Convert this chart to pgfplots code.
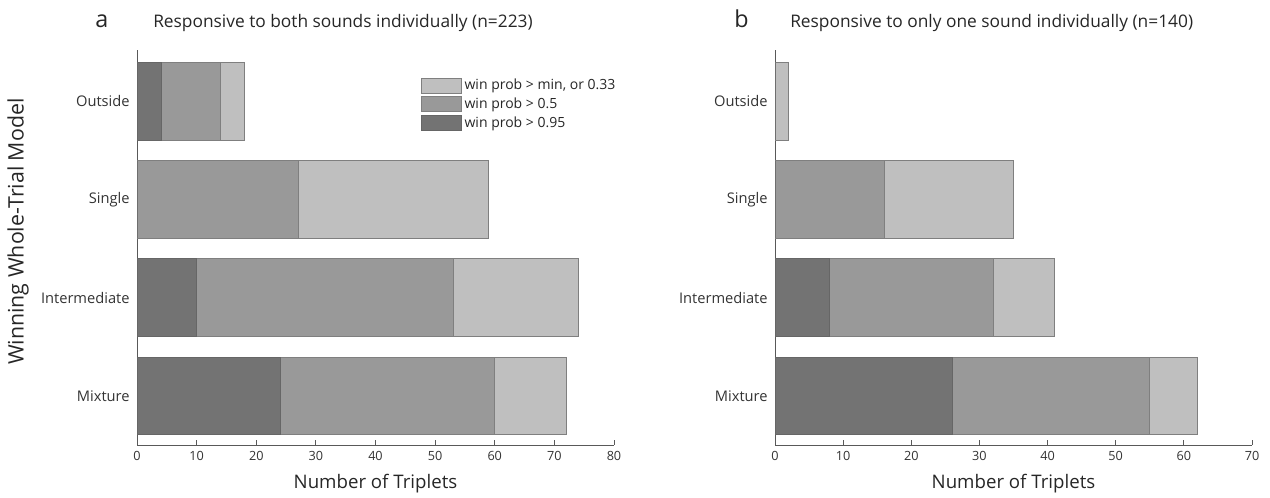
\documentclass[border=0pt]{standalone}
\usepackage{pgfplots}
\pgfplotsset{compat=1.18}
\usepackage{fontspec}
\setmainfont{Open Sans}
\definecolor{cdark}{HTML}{737373}
\definecolor{cmid}{HTML}{999999}
\definecolor{clight}{HTML}{BFBFBF}
\definecolor{cedge}{HTML}{7F7F7F}
\pgfplotsset{
  panel/.style={
    scale only axis,
    width=357.75pt, height=296.25pt,
    xbar, bar width=0.79, bar shift=0pt,
    xmin=0, ymin=0.5, ymax=4.52,
    axis lines*=left,
    axis line style={black!65, line width=0.6pt},
    tick align=inside,
    major tick length=3.75pt,
    every tick/.style={black!65, line width=0.6pt},
    ytick={1,2,3,4},
    yticklabels={Mixture,Intermediate,Single,Outside},
    ytick style={draw=none},
    y tick label style={font=\fontsize{11}{13}\selectfont, text=black!80, xshift=-2pt},
    x tick label style={font=\fontsize{9.5}{11}\selectfont, text=black!80, yshift=-1.5pt},
    xlabel={Number of Triplets},
    xlabel style={font=\fontsize{14}{16}\selectfont, text=black!85,
      at={(axis description cs:0.5,-0.0987)}, anchor=center},
    /pgf/number format/assume math mode=true,
    clip=false,
  },
  barlight/.style={fill=clight, draw=cedge, line width=0.5pt},
  barmid/.style={fill=cmid, draw=cedge, line width=0.5pt},
  bardark/.style={fill=cdark, draw=cedge!80!black, line width=0.5pt},
}
\begin{document}
\begin{tikzpicture}
\useasboundingbox (0pt,0pt) rectangle (952.5pt,373.5pt);
\begin{axis}[panel, at={(102.75pt,39.75pt)}, anchor=south west,
  xmax=80, xtick={0,10,...,80},
  ylabel={Winning Whole-Trial Model},
  ylabel style={font=\fontsize{16}{18}\selectfont, text=black!85,
    at={(axis description cs:-0.2495,0.54)}, anchor=center},
  legend style={at={(0.587,0.94)}, anchor=north west, draw=none, fill=none,
    font=\fontsize{10.5}{12}\selectfont, text=black!85, row sep=0.5pt},
  legend cell align=left,
  legend image code/.code={\draw[#1] (0pt,-5.6pt) rectangle (30pt,5.6pt);},
]
\addplot[barlight] coordinates {(18,4) (59,3) (74,2) (72,1)};
\addplot[barmid] coordinates {(14,4) (27,3) (53,2) (60,1)};
\addplot[bardark] coordinates {(4,4) (0,3) (10,2) (24,1)};
\legend{{win prob > min, or 0.33}, {win prob > 0.5}, {win prob > 0.95}}
\end{axis}
\begin{axis}[panel, at={(581.25pt,39.75pt)}, anchor=south west,
  xmax=70, xtick={0,10,...,70},
]
\addplot[barlight] coordinates {(2,4) (35,3) (41,2) (62,1)};
\addplot[barmid] coordinates {(0,4) (16,3) (32,2) (55,1)};
\addplot[bardark] coordinates {(0,4) (0,3) (8,2) (26,1)};
\end{axis}
\node[anchor=base west, inner sep=0pt, font=\fontsize{17.5}{20}\selectfont, text=black!85] at (71.25pt,352.5pt) {a};
\node[anchor=base west, inner sep=0pt, font=\fontsize{13}{15}\selectfont, text=black!85] at (114.75pt,352.5pt) {Responsive to both sounds individually (n=223)};
\node[anchor=base west, inner sep=0pt, font=\fontsize{17.5}{20}\selectfont, text=black!85] at (550.5pt,352.5pt) {b};
\node[anchor=base west, inner sep=0pt, font=\fontsize{13}{15}\selectfont, text=black!85] at (592.5pt,352.5pt) {Responsive to only one sound individually (n=140)};
\end{tikzpicture}
\end{document}
